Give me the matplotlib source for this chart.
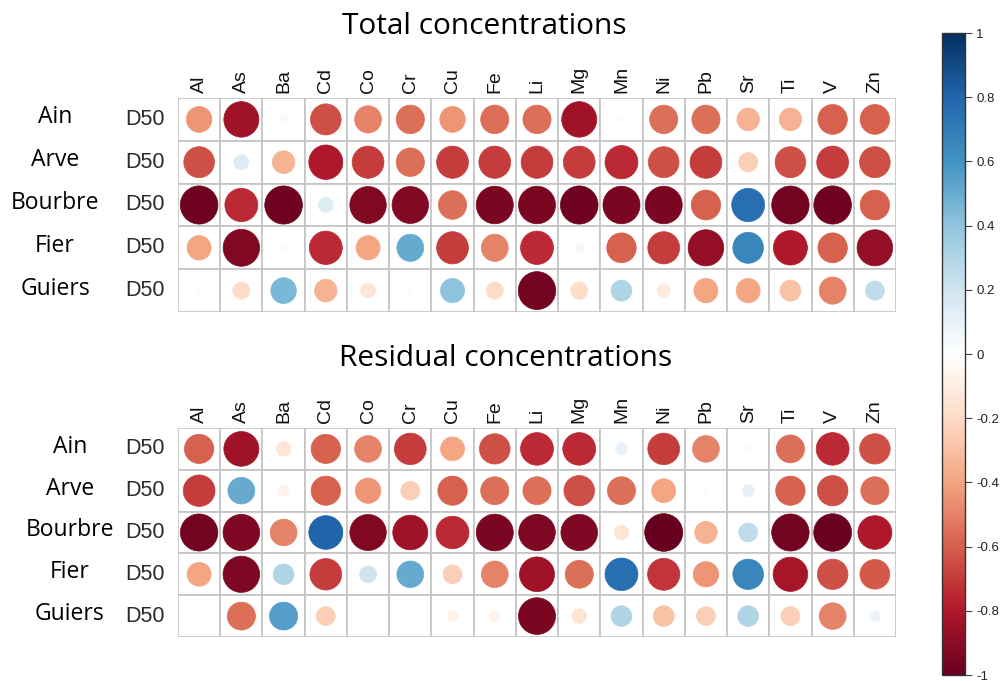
import numpy as np
import matplotlib
matplotlib.use("Agg")
import matplotlib.pyplot as plt
from matplotlib.colors import LinearSegmentedColormap, Normalize
from matplotlib.patches import Ellipse, Rectangle
import matplotlib.cm as cm

elements = ["Al", "As", "Ba", "Cd", "Co", "Cr", "Cu", "Fe", "Li", "Mg", "Mn",
            "Ni", "Pb", "Sr", "Ti", "V", "Zn"]
rivers = ["Ain", "Arve", "Bourbre", "Fier", "Guiers"]
row_tag = "D50"

total_ain = [-0.45, -0.85, -0.05, -0.65, -0.5, -0.55, -0.45, -0.55, -0.55, -0.85, 0.02, -0.55, -0.55, -0.35, -0.35, -0.6, -0.6]
total_arve = [-0.65, 0.15, -0.35, -0.8, -0.7, -0.55, -0.7, -0.7, -0.7, -0.7, -0.75, -0.65, -0.7, -0.25, -0.65, -0.7, -0.65]
total_bourbre = [-0.98, -0.75, -0.98, 0.15, -0.92, -0.92, -0.55, -0.95, -0.95, -0.98, -0.95, -0.95, -0.6, 0.75, -0.97, -0.98, -0.6]
total_fier = [-0.4, -0.92, 0.03, -0.75, -0.4, 0.5, -0.7, -0.5, -0.75, 0.05, -0.6, -0.7, -0.88, 0.65, -0.8, -0.6, -0.88]
total_guiers = [0.02, -0.2, 0.45, -0.35, -0.15, -0.03, 0.4, -0.2, -0.97, -0.2, 0.3, -0.12, -0.4, -0.4, -0.3, -0.5, 0.25]

resid_ain = [-0.6, -0.85, -0.15, -0.6, -0.5, -0.7, -0.4, -0.65, -0.75, -0.75, 0.1, -0.7, -0.5, -0.03, -0.55, -0.75, -0.65]
resid_arve = [-0.7, 0.5, -0.08, -0.6, -0.45, -0.25, -0.6, -0.55, -0.55, -0.65, -0.55, -0.4, -0.03, 0.1, -0.6, -0.65, -0.55]
resid_bourbre = [-0.97, -0.93, -0.5, 0.8, -0.92, -0.85, -0.75, -0.95, -0.93, -0.93, -0.15, -1.0, -0.35, 0.25, -0.97, -0.99, -0.8]
resid_fier = [-0.4, -0.93, 0.3, -0.7, 0.2, 0.5, -0.25, -0.5, -0.85, -0.55, 0.75, -0.72, -0.45, 0.65, -0.83, -0.65, -0.62]
resid_guiers = [-0.01, -0.55, 0.55, -0.25, -0.01, 0.0, -0.08, -0.08, -0.95, -0.15, 0.3, -0.3, -0.25, 0.3, -0.25, -0.5, 0.08]

cbar_ticks = [-1, -0.8, -0.6, -0.4, -0.2, 0, 0.2, 0.4, 0.6, 0.8, 1]
cbar_labels = ["-1", "-0.8", "-0.6", "-0.4", "-0.2", "0", "0.2", "0.4", "0.6", "0.8", "1"]

total = np.array([total_ain, total_arve, total_bourbre, total_fier, total_guiers])
resid = np.array([resid_ain, resid_arve, resid_bourbre, resid_fier, resid_guiers])

cmap = LinearSegmentedColormap.from_list(
    "corrRdBu",
    ["#67001F", "#B2182B", "#D6604D", "#F4A582", "#FDDBC7", "#FFFFFF",
     "#D1E5F0", "#92C5DE", "#4393C3", "#2166AC", "#053061"], N=200)
norm = Normalize(-1, 1)

W, H = 1000, 681
fig = plt.figure(figsize=(10, 6.81), dpi=100)


def fx(px):
    return px / W


def fy(py):
    return 1 - py / H


def draw_grid(mat, top, bottom, left=178, right=896, name_x=55, title=None, title_xy=None):
    ax = fig.add_axes([fx(left), fy(bottom), fx(right - left), (bottom - top) / H])
    nr, nc = mat.shape
    ax.set_xlim(0, nc)
    ax.set_ylim(nr, 0)
    ax.axis("off")
    for i in range(nr):
        for j in range(nc):
            ax.add_patch(Rectangle((j, i), 1, 1, facecolor="white",
                                   edgecolor="#c4c4c4", linewidth=1.2))
            v = mat[i, j]
            r = 0.45 * np.sqrt(abs(v))
            col = cmap(norm(v))
            ax.add_patch(Ellipse((j + 0.5, i + 0.5), 2 * r, 2 * r,
                                 facecolor=col, edgecolor=col, linewidth=0.5))
    for j, e in enumerate(elements):
        ax.text(j + 0.5, -0.12, e, rotation=90, ha="center", va="bottom",
                fontsize=14, family="Liberation Sans", color="#111111")
    for i, rv in enumerate(rivers):
        yy = top + (i + 0.5) * (bottom - top) / nr
        fig.text(fx(145), fy(yy), row_tag, ha="center", va="center",
                 fontsize=15.5, family="Liberation Sans", color="#2a2a2a")
        fig.text(fx(name_x), fy(yy - 2), rv, ha="center", va="center",
                 fontsize=16.5, family="Open Sans", color="black")
    if title:
        fig.text(fx(title_xy[0]), fy(title_xy[1]), title, ha="center", va="center",
                 fontsize=21.5, family="Open Sans", color="black")
    return ax


draw_grid(total, 98, 312, name_x=55, title="Total concentrations", title_xy=(484, 26))
draw_grid(resid, 428, 637, name_x=70, title="Residual concentrations", title_xy=(506, 358))

cax = fig.add_axes([fx(942), fy(675), fx(23), (675 - 33) / H])
sm = cm.ScalarMappable(norm=norm, cmap=cmap)
cb = fig.colorbar(sm, cax=cax, ticks=cbar_ticks)
cb.ax.set_yticklabels(cbar_labels)
cb.outline.set_edgecolor("#333333")
cb.outline.set_linewidth(1.0)
cb.ax.tick_params(length=5, width=0.8, color="#444444", pad=3, labelsize=9.5)
for t in cb.ax.get_yticklabels():
    t.set_family("Liberation Sans")
    t.set_color("#222222")

fig.savefig("out.png", dpi=100)
